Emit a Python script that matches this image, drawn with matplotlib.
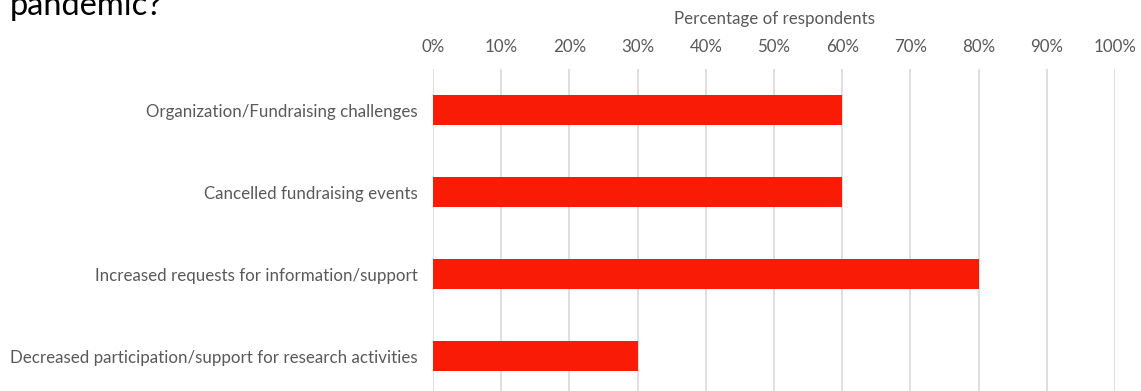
import matplotlib
matplotlib.use("Agg")
import matplotlib.pyplot as plt
from matplotlib.ticker import PercentFormatter

categories = [
    "Organization/Fundraising challenges",
    "Cancelled fundraising events",
    "Increased requests for information/support",
    "Decreased participation/support for research activities",
]
values = [60, 60, 80, 30]
xticks = list(range(0, 101, 10))

W, H = 1141, 391
fig = plt.figure(figsize=(W / 100, H / 100), dpi=100)
plt.rcParams['font.family'] = ['Lato', 'DejaVu Sans']

left, right, top, bottom = 433, 1115, 69, 397
ax = fig.add_axes([left / W, (H - bottom) / H, (right - left) / W, (bottom - top) / H])

ypos = range(len(categories))
ax.barh(ypos, values, height=0.37, color="#F91B05", zorder=3)
ax.set_ylim(len(categories) - 0.5, -0.5)
ax.set_xlim(0, 100)
ax.set_yticks(list(ypos))
ax.set_yticklabels(categories, fontsize=12.2, color="#595959")
ax.set_xticks(xticks)
ax.xaxis.set_major_formatter(PercentFormatter(decimals=0))
ax.xaxis.tick_top()
ax.xaxis.set_label_position("top")
ax.tick_params(axis="x", labelsize=12.2, labelcolor="#595959", length=0, pad=10)
ax.tick_params(axis="y", length=0, pad=11)
ax.set_xlabel("Percentage of respondents", fontsize=12.2, color="#595959", labelpad=11)
ax.grid(axis="x", color="#D9D9D9", linewidth=1.2, zorder=0)
for s in ax.spines.values():
    s.set_visible(False)

fig.text(10 / W, 1 - 15 / H, "pandemic?", fontsize=23.5, color="black", va="baseline", ha="left")

fig.savefig("out.png", dpi=100)
